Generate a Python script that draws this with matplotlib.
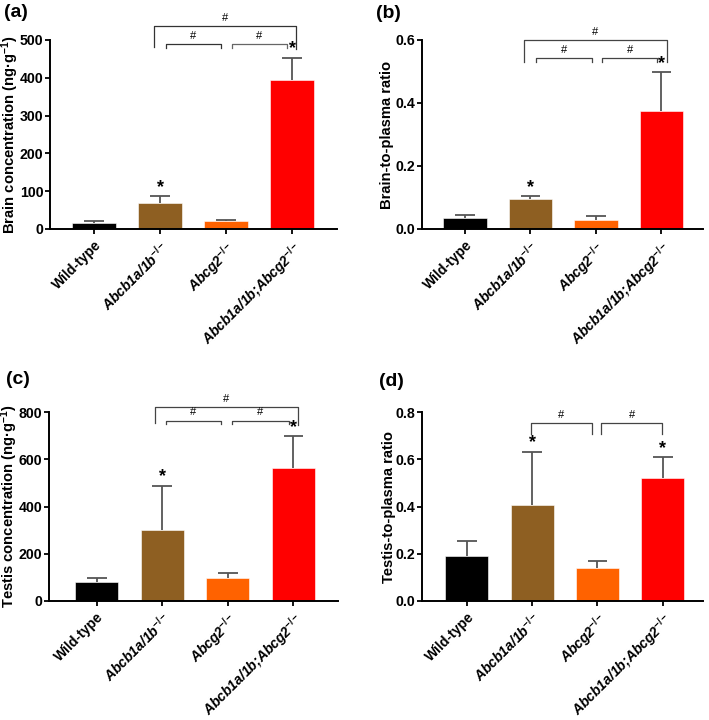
import numpy as np
import matplotlib
matplotlib.use("Agg")
import matplotlib.pyplot as plt

plt.rcParams['font.family'] = ['Liberation Sans', 'DejaVu Sans']
plt.rcParams['font.weight'] = 'bold'
plt.rcParams['mathtext.fontset'] = 'custom'
plt.rcParams['mathtext.rm'] = 'Liberation Sans:bold'
plt.rcParams['mathtext.it'] = 'Liberation Sans:italic:bold'
plt.rcParams['mathtext.bf'] = 'Liberation Sans:bold'

# data
genotypes = ['Wild-type', r'Abcb1a/1b$^{-/-}$', r'Abcg2$^{-/-}$', r'Abcb1a/1b;Abcg2$^{-/-}$']
colors = ['#000000', '#8E5F22', '#FF6200', '#FF0000']

brain_conc = [15, 69, 20, 393]
brain_conc_sd = [5, 17, 3, 59]
brain_ratio = [0.035, 0.095, 0.029, 0.376]
brain_ratio_sd = [0.010, 0.009, 0.011, 0.121]
testis_conc = [81, 300, 96, 565]
testis_conc_sd = [14, 189, 20, 133]
testis_ratio = [0.191, 0.405, 0.139, 0.522]
testis_ratio_sd = [0.064, 0.227, 0.030, 0.087]

stars_a = [False, True, False, True]
stars_b = [False, True, False, True]
stars_c = [False, True, False, True]
stars_d = [False, True, False, True]

# brackets: (x1, x2, y, drop1, drop2, color)
brackets_a = [(0.91, 3.06, 537, 481, 476, '#333333'),
              (1.08, 1.92, 489, 479, 479, '#333333'),
              (2.08, 2.92, 489, 479, 479, '#666666')]
brackets_b = [(0.905, 3.08, 0.600, 0.531, 0.531, '#444444'),
              (1.08, 1.94, 0.542, 0.531, 0.531, '#444444'),
              (2.10, 2.94, 0.542, 0.531, 0.531, '#444444')]
brackets_c = [(0.89, 3.07, 821, 753, 746, '#444444'),
              (1.05, 1.89, 765, 750, 750, '#444444'),
              (2.06, 2.93, 765, 750, 750, '#444444')]
brackets_d = [(0.98, 1.91, 0.753, 0.708, 0.708, '#444444'),
              (2.06, 2.99, 0.753, 0.708, 0.708, '#444444')]

fig = plt.figure(figsize=(7.09, 7.20), dpi=100)


def panel(rect, vals, sds, stars, brackets, ylabel, yticks, yfmt, xlim, tag, tagpos, labx):
    ax = fig.add_axes(rect)
    x = np.arange(len(vals))
    ax.vlines(x, vals, np.array(vals) + np.array(sds), color='#555555', lw=1.3, zorder=1)
    ax.hlines(np.array(vals) + np.array(sds), x - 0.15, x + 0.15, color='#555555', lw=1.3, zorder=1)
    ax.bar(x, vals, width=0.66, color=colors, edgecolor='#ffffff', linewidth=0.4, zorder=2)
    top = yticks[-1]
    for i in range(len(vals)):
        if stars[i]:
            ax.text(x[i], vals[i] + sds[i] + top * 0.003, '*', ha='center', va='bottom',
                    fontsize=13, fontweight='bold')
    for (x1, x2, y, d1, d2, c) in brackets:
        ax.plot([x1, x1, x2, x2], [d1, y, y, d2], color=c, lw=0.9, clip_on=False)
        ax.text((x1 + x2) / 2, y + top * 0.018, '#', ha='center', va='bottom',
                fontsize=8, fontweight='normal')
    ax.set_xlim(*xlim)
    ax.set_ylim(0, top)
    ax.set_yticks(yticks)
    ax.set_yticklabels([yfmt.format(v) for v in yticks])
    ax.set_xticks(x)
    ax.set_xticklabels(genotypes, rotation=45, ha='right', va='top', rotation_mode='anchor')
    ax.tick_params(axis='both', width=1.3, length=3.8)
    ax.tick_params(axis='y', labelsize=10.2, pad=1.0)
    ax.tick_params(axis='x', labelsize=10, pad=3)
    for lab in ax.get_yticklabels() + ax.get_xticklabels():
        lab.set_fontweight('bold')
    for lab in ax.get_xticklabels()[1:]:
        lab.set_fontstyle('italic')
    ax.spines['top'].set_visible(False)
    ax.spines['right'].set_visible(False)
    ax.spines['left'].set_linewidth(1.4)
    ax.spines['bottom'].set_linewidth(1.4)
    ax.set_ylabel(ylabel, fontsize=10.6, fontweight='bold')
    ax.yaxis.set_label_coords(labx, 0.5)
    fig.text(tagpos[0], tagpos[1], tag, fontsize=14, fontweight='bold', ha='left', va='top')
    return ax


panel([0.0705, 0.682, 0.405, 0.2625], brain_conc, brain_conc_sd, stars_a, brackets_a,
      r'Brain concentration (ng·g$^{-1}$)', [0, 100, 200, 300, 400, 500], '{:d}',
      (-0.67, 3.68), '(a)', (0.006, 0.995), -0.102)
panel([0.595, 0.682, 0.396, 0.2625], brain_ratio, brain_ratio_sd, stars_b, brackets_b,
      'Brain-to-plasma ratio', [0.0, 0.2, 0.4, 0.6], '{:.1f}',
      (-0.66, 3.63), '(b)', (0.530, 0.993), -0.100)
panel([0.069, 0.1657, 0.4076, 0.2616], testis_conc, testis_conc_sd, stars_c, brackets_c,
      r'Testis concentration (ng·g$^{-1}$)', [0, 200, 400, 600, 800], '{:d}',
      (-0.73, 3.68), '(c)', (0.008, 0.485), -0.100)
panel([0.595, 0.1657, 0.396, 0.2616], testis_ratio, testis_ratio_sd, stars_d, brackets_d,
      'Testis-to-plasma ratio', [0.0, 0.2, 0.4, 0.6, 0.8], '{:.1f}',
      (-0.69, 3.61), '(d)', (0.534, 0.482), -0.093)

fig.savefig('out.png', dpi=100)
